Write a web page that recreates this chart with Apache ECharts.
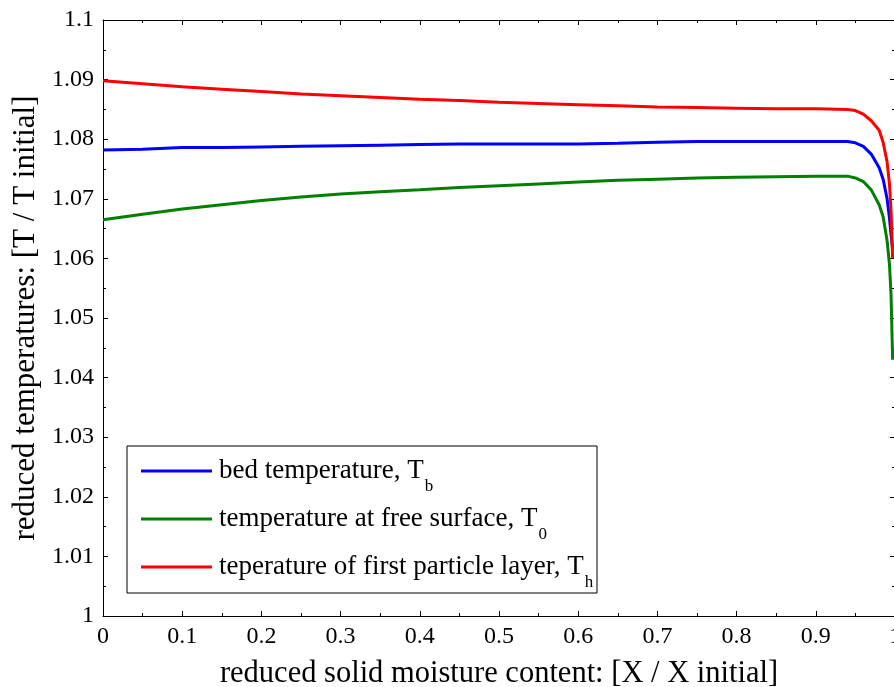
<!DOCTYPE html>
<html>
<head>
<meta charset="utf-8">
<script src="https://cdn.jsdelivr.net/npm/echarts@6/dist/echarts.min.js"></script>
<style>
  html, body { margin: 0; padding: 0; background: #fff; }
  #chart { width: 894px; height: 687px; }
</style>
</head>
<body>
<div id="chart"></div>
<script>
// x positions (reduced solid moisture content)
const xValues = [0, 0.05, 0.1, 0.15, 0.2, 0.25, 0.3, 0.35, 0.4, 0.45, 0.5, 0.55, 0.6, 0.65, 0.7, 0.75, 0.8, 0.85, 0.9, 0.94, 0.95, 0.96, 0.97, 0.98, 0.985, 0.99, 0.993, 0.995, 0.997];

// bed temperature, T_b
const bedTemp = [1.0782, 1.0783, 1.0786, 1.0786, 1.0787, 1.0788, 1.0789, 1.0790, 1.0791, 1.0792, 1.0792, 1.0792, 1.0792, 1.0793, 1.0795, 1.0796, 1.0796, 1.0796, 1.0796, 1.0796, 1.0794, 1.0788, 1.0775, 1.0752, 1.0733, 1.0700, 1.0668, 1.0640, 1.0615];

// temperature at free surface, T_0
const surfaceTemp = [1.0665, 1.0674, 1.0683, 1.0690, 1.0697, 1.0703, 1.0708, 1.0712, 1.0715, 1.0719, 1.0722, 1.0725, 1.0728, 1.0731, 1.0733, 1.0735, 1.0736, 1.0737, 1.0738, 1.0738, 1.0735, 1.0729, 1.0715, 1.0690, 1.0670, 1.0630, 1.0590, 1.0540, 1.0430];

// teperature of first particle layer, T_h
const layerTemp = [1.0898, 1.0893, 1.0888, 1.0884, 1.0880, 1.0876, 1.0873, 1.0870, 1.0867, 1.0865, 1.0862, 1.0860, 1.0858, 1.0856, 1.0854, 1.0853, 1.0852, 1.0851, 1.0851, 1.0850, 1.0848, 1.0842, 1.0831, 1.0815, 1.0795, 1.0762, 1.0725, 1.0680, 1.0600];

const seriesNames = ["bed temperature, T", "temperature at free surface, T", "teperature of first particle layer, T"];
const seriesSubs = ["b", "0", "h"];
const seriesColors = ["#0000ff", "#008000", "#ff0000"];
const seriesValues = [bedTemp, surfaceTemp, layerTemp];

const fontFamily = "Liberation Serif, Times New Roman, serif";

const chart = echarts.init(document.getElementById("chart"));

// 坐标轴公共样式
const axisCommon = {
  axisLine: { show: true, onZero: false, lineStyle: { color: "#000", width: 1 } },
  axisTick: { show: true, inside: true, length: 5, lineStyle: { color: "#000" } },
  minorTick: { show: true, splitNumber: 2, length: 3, lineStyle: { color: "#000" } },
  splitLine: { show: false },
};

const option = {
  animation: false,
  backgroundColor: "#fff",
  grid: { left: 103, top: 20, right: -1, bottom: 71, outerBoundsMode: "none", containLabel: false },
  xAxis: [
    {
      type: "value",
      min: 0,
      max: 1,
      interval: 0.1,
      position: "bottom",
      name: "reduced solid moisture content: [X / X initial]",
      nameLocation: "middle",
      nameGap: 42,
      nameTextStyle: { fontFamily, fontSize: 30.5, color: "#000" },
      axisLabel: {
        margin: 9,
        fontFamily,
        fontSize: 24,
        color: "#000",
        formatter: (v) => String(Math.round(v * 10) / 10),
      },
      ...axisCommon,
    },
    {
      type: "value",
      min: 0,
      max: 1,
      interval: 0.1,
      position: "top",
      axisLabel: { show: false },
      ...axisCommon,
    },
  ],
  yAxis: [
    {
      type: "value",
      min: 1,
      max: 1.1,
      interval: 0.01,
      position: "left",
      name: "reduced temperatures: [T / T initial]",
      nameLocation: "middle",
      nameGap: 60,
      nameTextStyle: { fontFamily, fontSize: 31, color: "#000" },
      axisLabel: {
        margin: 9,
        fontFamily,
        fontSize: 24,
        color: "#000",
        formatter: (v) => String(Math.round(v * 100) / 100),
      },
      ...axisCommon,
    },
    {
      type: "value",
      min: 1,
      max: 1.1,
      interval: 0.01,
      position: "right",
      axisLabel: { show: false },
      ...axisCommon,
    },
  ],
  legend: {
    orient: "vertical",
    left: 141,
    top: 447,
    padding: 0,
    itemGap: 0,
    itemWidth: 71,
    itemHeight: 3,
    icon: "rect",
    data: seriesNames,
    formatter: (name) => {
      const i = seriesNames.indexOf(name);
      return "{t|" + name + "}{s|" + seriesSubs[i] + "}";
    },
    textStyle: {
      rich: {
        t: { fontFamily, fontSize: 27, lineHeight: 30, color: "#000", padding: [0, 0, 0, 2] },
        s: { fontFamily, fontSize: 17, lineHeight: 17, color: "#000", padding: [31, 0, 0, 1] },
      },
    },
  },
  graphic: [
    {
      type: "rect",
      z: 0,
      shape: { x: 127, y: 446, width: 470, height: 147 },
      style: { fill: "#fff", stroke: "#000", lineWidth: 1 },
    },
  ],
  series: seriesNames.map((name, i) => ({
    name,
    type: "line",
    xAxisIndex: 0,
    yAxisIndex: 0,
    showSymbol: false,
    symbol: "none",
    data: xValues.map((x, j) => [x, seriesValues[i][j]]),
    itemStyle: { color: seriesColors[i] },
    lineStyle: { color: seriesColors[i], width: 3 },
  })),
};

chart.setOption(option);
</script>
</body>
</html>
